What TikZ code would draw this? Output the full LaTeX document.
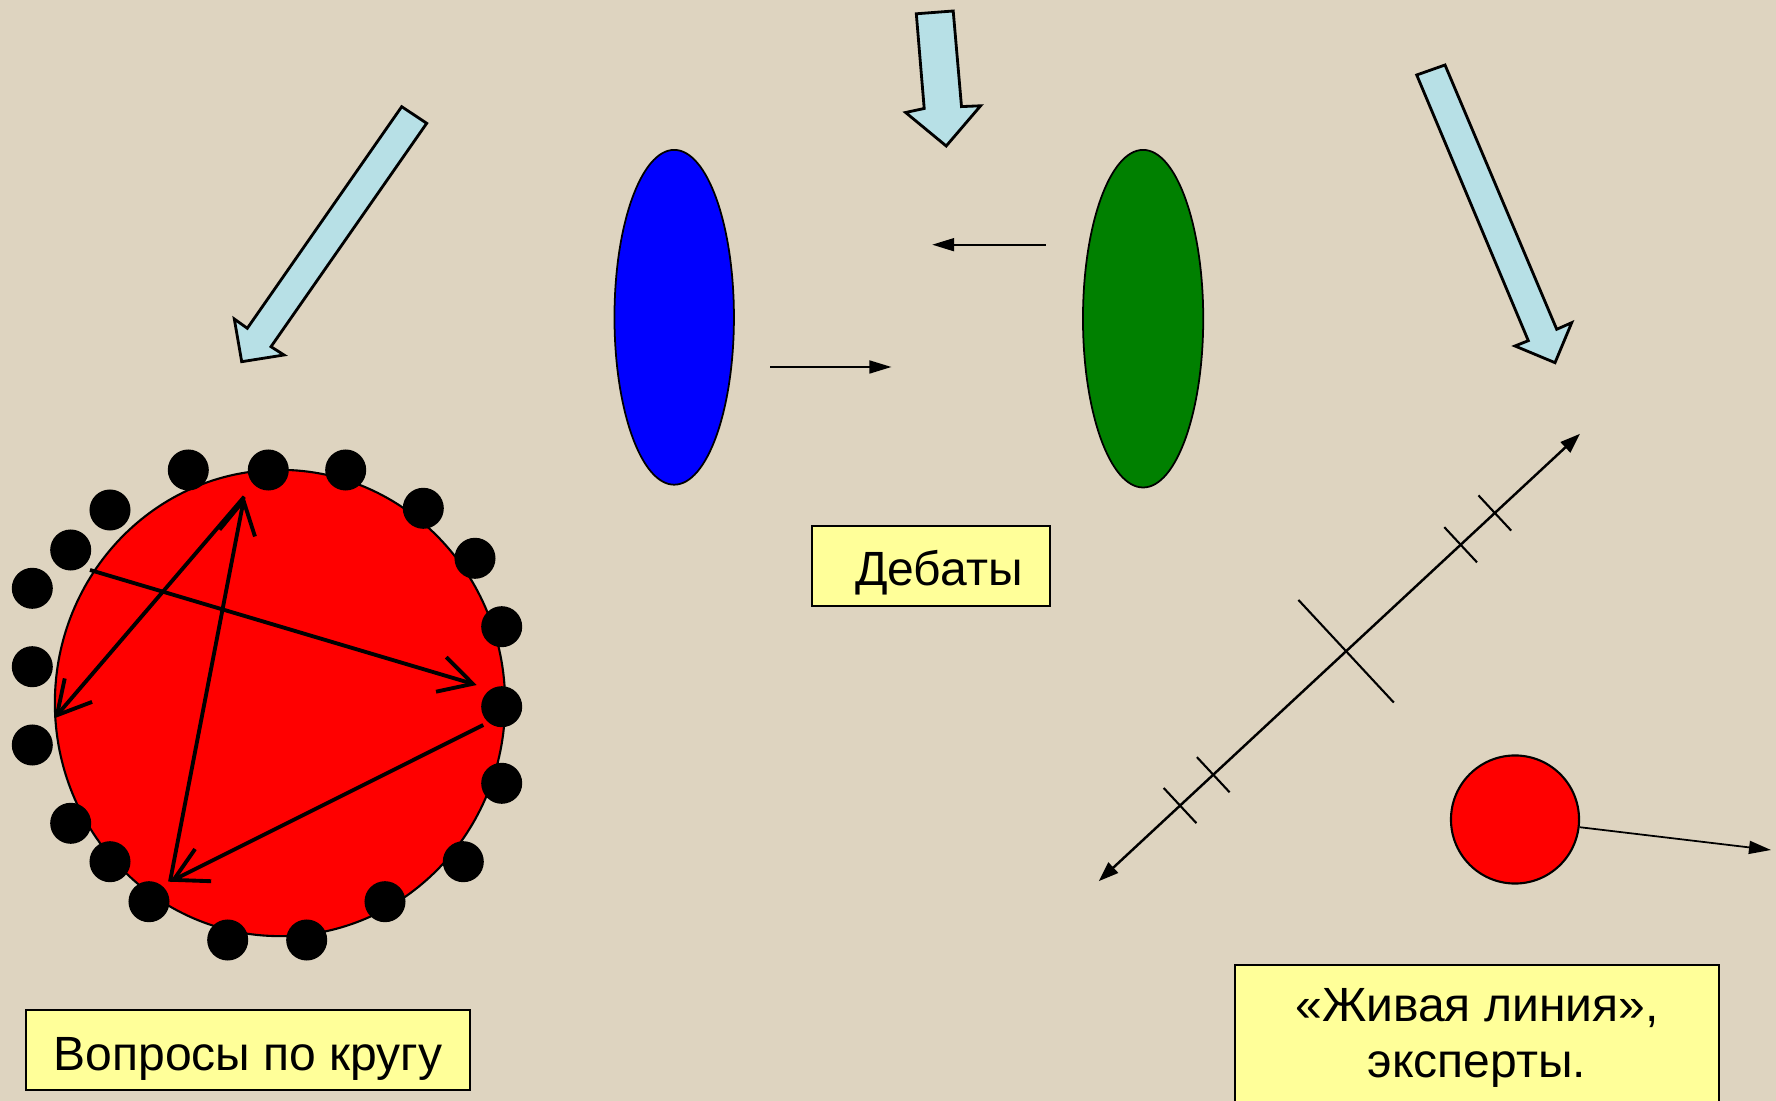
\documentclass[tikz,border=0pt]{standalone}
\usepackage{fontspec}
\setmainfont{Liberation Sans}
\usetikzlibrary{arrows.meta,shapes.geometric,calc}
\definecolor{bgbeige}{RGB}{222,212,192}
\definecolor{lblue}{RGB}{183,224,230}
\definecolor{boxyellow}{RGB}{255,255,153}
\definecolor{dgreen}{RGB}{0,128,0}
\begin{document}
\begin{tikzpicture}[x=0.01cm,y=-0.01cm,
  bluearrow/.style={fill=lblue, draw=black, line width=0.8pt, line join=miter},
  labelbox/.style={draw=black, line width=0.6pt, fill=boxyellow, inner sep=0pt,
    font=\fontsize{13.66pt}{16.1pt}\selectfont, text height=0.48cm, text depth=0.08cm},
  dot/.style={circle, fill=black, inner sep=0pt, minimum size=0.41cm},
  ringarrow/.style={-{Straight Barb[length=0.33cm,width=0.36cm]}, line width=1.1pt},
  gaparrow/.style={-{Triangle[length=0.22cm,width=0.13cm]}, line width=0.5pt},
  tick/.style={line width=0.6pt}]

\useasboundingbox (0,0) rectangle (1776,1101);
\clip (0,0) rectangle (1776,1101);
\fill[bgbeige] (0,0) rectangle (1776,1101);

% light blue block arrows
\draw[bluearrow] (401.7,106.7) -- (426.7,123.3) -- (271,346.7) -- (284,355) -- (241.7,361.7) -- (234.3,319) -- (247.3,328.3) -- cycle;
\draw[bluearrow] (916.3,13.8) -- (953.2,11) -- (961.5,106.6) -- (980.6,105.8) -- (946.2,146) -- (905.6,112.5) -- (924.2,108.5) -- cycle;
\draw[bluearrow] (1416.7,75) -- (1445,65) -- (1556.7,329.3) -- (1571.7,322.7) -- (1555,362.7) -- (1515,346) -- (1528.3,340.7) -- cycle;

% debate ellipses
\node[ellipse, draw=black, line width=0.5pt, fill=blue, minimum width=1.194cm, minimum height=3.346cm, inner sep=0pt] (blueteam) at (674.2,317.3) {};
\node[ellipse, draw=black, line width=0.5pt, fill=dgreen, minimum width=1.202cm, minimum height=3.374cm, inner sep=0pt] (greenteam) at (1143.1,318.7) {};
\coordinate (g1) at (1045.5,244.7);
\coordinate (g2) at (932.2,244.7);
\coordinate (b1) at (770.2,367);
\coordinate (b2) at (891.4,367);
\draw[gaparrow] (g1) -- (g2);
\draw[gaparrow] (b1) -- (b2);

\node[labelbox, minimum width=2.383cm, minimum height=0.8cm] (debaty) at (930.9,565.7) {\hspace*{0.16cm}Дебаты};

% big circle with participants
\node[ellipse, draw=black, line width=0.6pt, fill=red, minimum width=4.5cm, minimum height=4.66cm, inner sep=0pt] (bigc) at (280,703) {};
\coordinate (ra) at (90,570);
\coordinate (rb) at (476.7,685);
\coordinate (rtop) at (244.3,496.7);
\coordinate (rleft) at (54.3,718.3);
\coordinate (rbot) at (170,881.7);
\coordinate (rright) at (483.3,725);
\draw[ringarrow] (ra) -- (rb);
\draw[ringarrow] (rtop) -- (rleft);
\draw[ringarrow] (rbot) -- (rtop);
\draw[ringarrow] (rright) -- (rbot);
\foreach \x/\y [count=\i] in {188.3/470, 268.3/470, 345.7/470, 423.3/508.3, 475/558.3, 501.7/626.7, 501.7/706.7, 501.7/783.3, 463.3/861.7, 385/901.7, 306.7/940, 227.7/940, 149/901.7, 110/861.7, 70.7/823.3, 32.3/745, 32.3/666.7, 32.3/588.3, 70.7/550, 110/510}
  \node[dot] (d\i) at (\x,\y) {};

\node[labelbox, minimum width=4.44cm, minimum height=0.8cm] (voprosy) at (248,1050) {Вопросы по кругу};

% living line
\coordinate (ll) at (1098.7,881.2);
\coordinate (ur) at (1580,433.8);
\draw[line width=0.7pt, {Triangle[length=0.2cm,width=0.14cm]}-{Triangle[length=0.2cm,width=0.14cm]}] (ll) -- (ur);
\foreach \t/\h [count=\k] in {0.169/0.24, 0.238/0.24, 0.514/0.70, 0.752/0.24, 0.823/0.24}{
  \coordinate (tk\k) at ($(ll)!\t!(ur)$);
  \draw[tick] ($(tk\k)!\h cm!90:(ur)$) -- ($(tk\k)!\h cm!-90:(ur)$);
}

\node[circle, draw=black, line width=0.6pt, fill=red, minimum size=1.28cm, inner sep=0pt] (expert) at (1515,819.5) {};
\coordinate (expertend) at (1771,850);
\draw[gaparrow] (expert) -- (expertend);

\node[draw=black, line width=0.6pt, fill=boxyellow, minimum width=4.84cm, minimum height=1.8cm, inner sep=0pt] (livebox) at (1477,1055) {};
\node[font=\fontsize{13.66pt}{16.1pt}\selectfont, align=center, anchor=north, inner sep=0pt] (livetext) at (1477,987.6) {«Живая линия»,\\эксперты.};
\end{tikzpicture}
\end{document}
